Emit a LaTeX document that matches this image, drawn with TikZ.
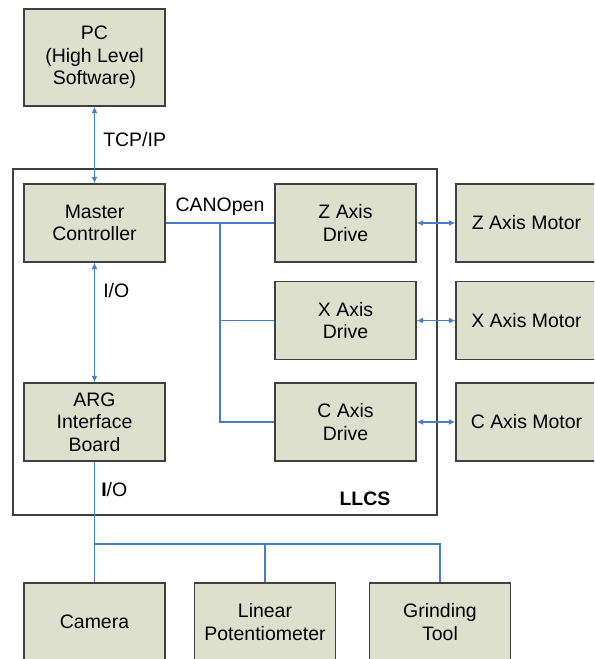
\documentclass[tikz,border=0pt]{standalone}
\usepackage{fontspec}
\setmainfont{Liberation Sans}
\usetikzlibrary{arrows.meta}
\definecolor{boxfill}{HTML}{DDE0CC}
\definecolor{boxline}{HTML}{404040}
\definecolor{linkblue}{HTML}{4A7EC4}
\begin{document}
\begin{tikzpicture}[x=0.75pt,y=-0.75pt,
  blk/.style={draw=boxline, fill=boxfill, line width=0.8pt, minimum width=105.75pt, minimum height=58.5pt, inner sep=0pt, align=center, font=\fontsize{14.6}{17}\selectfont},
  lbl/.style={inner sep=0pt, font=\fontsize{14.6}{17}\selectfont},
  bus/.style={draw=linkblue, line width=1.1pt},
  biarr/.style={bus, {Latex[length=5pt,width=4.5pt]}-{Latex[length=5pt,width=4.5pt]}}]
\useasboundingbox (0,0) rectangle (594,659);
\clip (0,0) rectangle (594,659);
% LLCS frame
\draw[draw=boxline, line width=0.8pt] (13,169) rectangle (437,515);
\node[lbl, font=\fontsize{14.6}{17}\selectfont\bfseries] (llcs) at (365,499) {LLCS};
% blocks
\node[blk, minimum height=72.75pt] (pc) at (94.5,57.5) {PC\\(High Level\\Software)};
\node[blk] (mc) at (94.5,223) {Master\\Controller};
\node[blk] (arg) at (94.5,422) {ARG\\Interface\\Board};
\node[blk] (zd) at (345.5,223) {Z Axis\\Drive};
\node[blk] (xd) at (345.5,320.5) {X Axis\\Drive};
\node[blk] (cd) at (345.5,422) {C Axis\\Drive};
\node[blk] (zm) at (526.5,223) {Z Axis Motor};
\node[blk] (xm) at (526.5,320.5) {X Axis Motor};
\node[blk] (cm) at (526.5,422) {C Axis Motor};
\node[blk] (cam) at (94.5,622) {Camera};
\node[blk] (lp) at (265,622) {Linear\\Potentiometer};
\node[blk] (gt) at (440,622) {Grinding\\Tool};
% labels
\node[lbl, anchor=west] (tcp) at (103,140) {TCP/IP};
\node[lbl] (can) at (220,207) {CANOpen};
\node[lbl, anchor=west] (io1) at (103,291) {I/O};
\node[lbl, anchor=west] (io2) at (101,490) {\textbf{I}/O};
% connectors
\draw[biarr] (pc.south) -- (mc.north);
\draw[biarr] (mc.south) -- (arg.north);
\draw[bus] (mc.east) -- (zd.west);
\coordinate (bt) at (220,223);
\draw[bus] (bt) |- (cd.west);
\draw[bus] (bt |- xd.west) -- (xd.west);
\draw[biarr] (zd.east) -- (zm.west);
\draw[biarr] (xd.east) -- (xm.west);
\draw[biarr] (cd.east) -- (cm.west);
\coordinate (j) at (94.5,544);
\draw[bus] (arg.south) -- (cam.north);
\draw[bus] (j) -| (lp.north);
\draw[bus] (j) -| (gt.north);
\end{tikzpicture}
\end{document}
